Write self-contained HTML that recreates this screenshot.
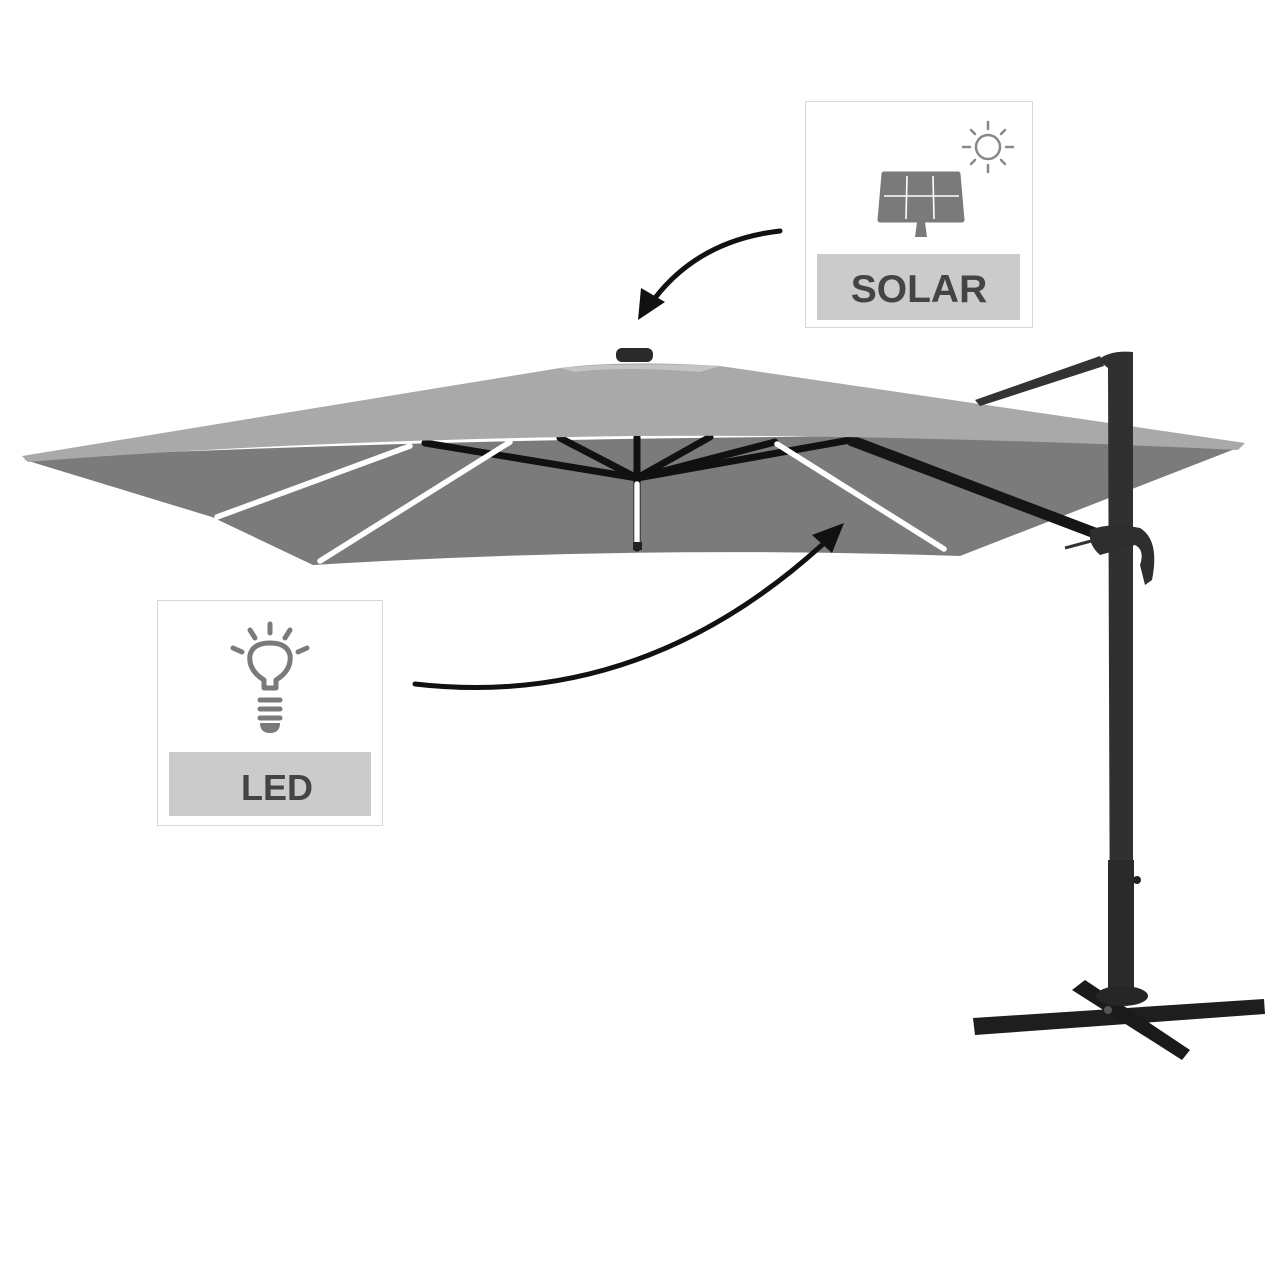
<!DOCTYPE html>
<html><head><meta charset="utf-8"><style>
html,body{margin:0;padding:0;background:#fff;}
svg{display:block}
text{font-family:"Liberation Sans",sans-serif;font-weight:bold;}
</style></head><body>
<svg width="1280" height="1280" viewBox="0 0 1280 1280" xmlns="http://www.w3.org/2000/svg">
<rect width="1280" height="1280" fill="#fff"/>
<!-- underside -->
<path d="M25,460 L212,517 L313,565 Q640,545 960,556 L1240,447 L1180,438 Q640,430 25,458 Z" fill="#7b7b7b"/>
<!-- ribs -->
<g stroke="#111" stroke-width="7" stroke-linecap="round" fill="none">
<line x1="637" y1="478" x2="425" y2="443"/>
<line x1="637" y1="478" x2="560" y2="438"/>
<line x1="637" y1="478" x2="710" y2="437"/>
<line x1="637" y1="478" x2="775" y2="442"/>
<line x1="637" y1="478" x2="850" y2="440"/>
<line x1="637" y1="478" x2="637" y2="437"/>
<line x1="637" y1="478" x2="637" y2="548"/>
</g>
<line x1="850" y1="440" x2="1100" y2="535" stroke="#151515" stroke-width="11"/>
<!-- LED strips -->
<g stroke="#fff" stroke-width="5.5" stroke-linecap="round">
<line x1="217" y1="517" x2="410" y2="446"/>
<line x1="320" y1="561" x2="510" y2="442"/>
<line x1="637" y1="484" x2="637" y2="542"/>
<line x1="777" y1="444" x2="944" y2="549"/>
</g>
<rect x="633" y="542" width="9" height="8" fill="#222"/>
<!-- top surface -->
<path d="M22,456 L560,368 Q620,360 720,366 L1245,443 L1238,450 Q900,434 640,436 Q300,440 28,462 Z" fill="#a9a9a9"/>
<path d="M560,368 Q620,362 720,366 L700,372 Q620,366 575,372 Z" fill="#c4c4c4"/>
<!-- solar cap -->
<rect x="616" y="348" width="37" height="14" rx="6" fill="#2a2a2a"/>
<!-- pole -->
<path d="M975,400 L1100,356 L1104,366 L980,406 Z" fill="#333"/>
<path d="M1098,360 Q1110,350 1133,352 L1133,990 L1110,990 L1108,368 Z" fill="#303030"/>
<rect x="1108" y="860" width="26" height="130" fill="#2a2a2a"/>
<circle cx="1137" cy="880" r="4" fill="#222"/>
<!-- joint -->
<path d="M1090,530 Q1110,522 1140,528 Q1160,540 1152,580 L1145,585 L1140,565 Q1145,550 1135,545 L1100,555 Q1088,545 1090,530 Z" fill="#2e2e2e"/>
<line x1="1065" y1="548" x2="1095" y2="540" stroke="#333" stroke-width="3"/>
<!-- base -->
<path d="M973,1018 L1264,999 L1265,1014 L975,1035 Z" fill="#1e1e1e"/>
<path d="M1072,990 L1085,980 L1190,1050 L1182,1060 Z" fill="#1a1a1a"/>
<ellipse cx="1122" cy="996" rx="26" ry="10" fill="#262626"/>
<circle cx="1108" cy="1010" r="4" fill="#555"/>
<!-- arrows -->
<path d="M780,231 Q700,240 655,298" stroke="#111" stroke-width="5" fill="none" stroke-linecap="round"/>
<polygon points="638,320 641,288 665,302" fill="#111"/>
<path d="M415,684 Q640,710 822,545" stroke="#111" stroke-width="5" fill="none" stroke-linecap="round"/>
<polygon points="844,523 812,535 832,553" fill="#111"/>
<!-- SOLAR box -->
<rect x="805.5" y="101.5" width="227" height="226" fill="#fff" stroke="#d8d8d8"/>
<g stroke="#888" stroke-width="2.5" stroke-linecap="round" fill="none">
<circle cx="988" cy="147" r="12"/>
<line x1="988" y1="122" x2="988" y2="129"/><line x1="988" y1="165" x2="988" y2="172"/>
<line x1="963" y1="147" x2="970" y2="147"/><line x1="1006" y1="147" x2="1013" y2="147"/>
<line x1="971" y1="130" x2="975" y2="134"/><line x1="1001" y1="160" x2="1005" y2="164"/>
<line x1="1005" y1="130" x2="1001" y2="134"/><line x1="975" y1="160" x2="971" y2="164"/>
</g>
<path d="M884,174 L958,174 L962,220 L880,220 Z" fill="#7a7a7a" stroke="#7a7a7a" stroke-width="5" stroke-linejoin="round"/>
<g stroke="#fff" stroke-width="1.6"><line x1="884" y1="196" x2="959" y2="196"/><line x1="907" y1="176" x2="906" y2="219"/><line x1="933" y1="176" x2="934" y2="219"/></g>
<polygon points="917,222 925,222 927,237 915,237" fill="#7a7a7a"/>
<rect x="817" y="254" width="203" height="66" fill="#cbcbcb"/>
<text x="919" y="302" font-size="39" fill="#444" text-anchor="middle">SOLAR</text>
<!-- LED box -->
<rect x="157.5" y="600.5" width="225" height="225" fill="#fff" stroke="#d8d8d8"/>
<g stroke="#7a7a7a" stroke-width="5" stroke-linecap="round" fill="none">
<line x1="270" y1="624" x2="270" y2="633"/>
<line x1="250" y1="630" x2="255" y2="638"/><line x1="290" y1="630" x2="285" y2="638"/>
<line x1="233" y1="648" x2="242" y2="652"/><line x1="307" y1="648" x2="298" y2="652"/>
<path d="M264,688 L264,680 Q248,670 250,655 Q253,643 270,643 Q287,643 290,655 Q292,670 276,680 L276,688 Z" stroke-width="5" stroke-linejoin="round"/>
<line x1="260" y1="700" x2="280" y2="700"/><line x1="260" y1="709" x2="280" y2="709"/><line x1="260" y1="718" x2="280" y2="718"/>
</g>
<path d="M260,723 L280,723 Q280,733 270,733 Q260,733 260,723 Z" fill="#7a7a7a"/>
<rect x="169" y="752" width="202" height="64" fill="#cbcbcb"/>
<text x="277" y="800" font-size="36" fill="#444" text-anchor="middle">LED</text>
</svg>
</body></html>
